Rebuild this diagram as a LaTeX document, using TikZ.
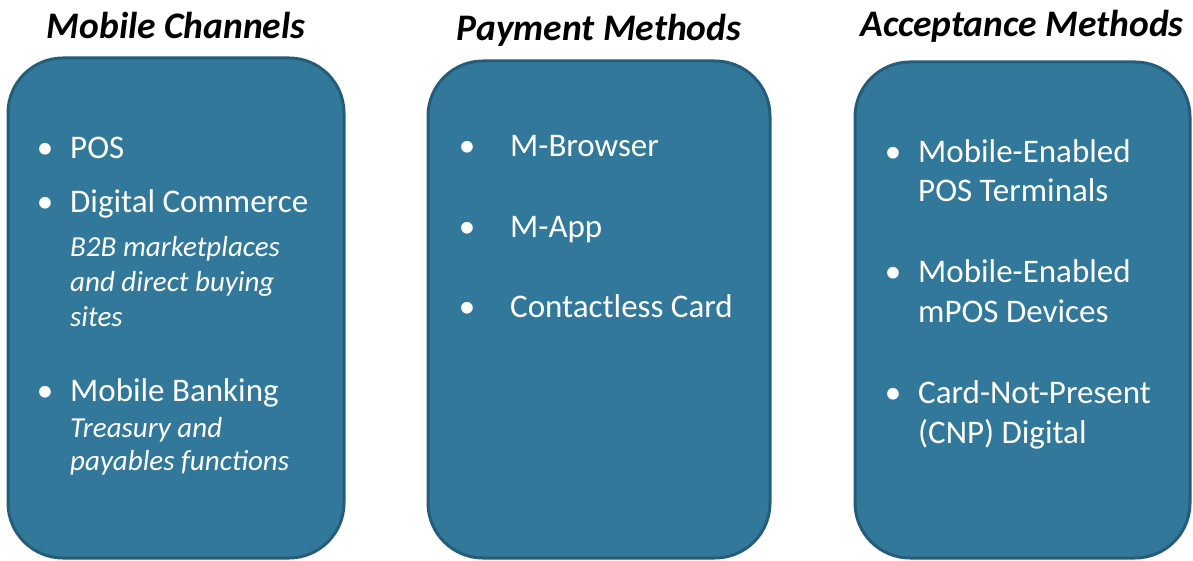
\documentclass[tikz,border=0pt]{standalone}
\usepackage{fontspec}
\setmainfont{Carlito}
\definecolor{boxfill}{RGB}{49,120,154}
\definecolor{boxline}{RGB}{36,93,120}
\begin{document}
\begin{tikzpicture}[x=1pt,y=-1pt,
  panel/.style={draw=boxline,fill=boxfill,line width=3pt,rounded corners=55pt},
  ttl/.style={inner sep=0pt,anchor=base,font=\fontsize{37.5}{42}\selectfont\bfseries\itshape,text=black},
  itm/.style={inner sep=0pt,anchor=base west,font=\fontsize{33}{38}\selectfont,text=white},
  sub/.style={inner sep=0pt,anchor=base west,font=\fontsize{29}{34}\selectfont\itshape,text=white},
  bul/.style={inner sep=0pt,anchor=base,font=\fontsize{33}{38}\selectfont,text=white}]
\useasboundingbox (0,0) rectangle (1193,561);
% panels
\draw[panel] (8,58) rectangle (344,558);
\draw[panel] (428,61) rectangle (770,558);
\draw[panel] (855,62) rectangle (1190,558);
% titles
\node[ttl] (t1) at (176,39) {Mobile Channels};
\node[ttl] (t2) at (599,41) {Payment Methods};
\node[ttl] (t3) at (1022,37) {Acceptance Methods};
% column 1
\node[bul] (b11) at (45,159) {\textbullet};
\node[itm] (i11) at (70,159) {POS};
\node[bul] (b12) at (45,213) {\textbullet};
\node[itm] (i12) at (70,213) {Digital Commerce};
\node[sub] (s121) at (70,257) {B2B marketplaces};
\node[sub] (s122) at (70,291) {and direct buying};
\node[sub] (s123) at (70,326) {sites};
\node[bul] (b13) at (45,401) {\textbullet};
\node[itm] (i13) at (70,401) {Mobile Banking};
\node[sub] (s131) at (70,437) {Treasury and};
\node[sub] (s132) at (70,470) {payables functions};
% column 2
\node[bul] (b21) at (467,157) {\textbullet};
\node[itm] (i21) at (510,157) {M-Browser};
\node[bul] (b22) at (467,238) {\textbullet};
\node[itm] (i22) at (510,238) {M-App};
\node[bul] (b23) at (467,317) {\textbullet};
\node[itm] (i23) at (510,317) {Contactless Card};
% column 3
\node[bul] (b31) at (893,163) {\textbullet};
\node[itm] (i31) at (918,163) {Mobile-Enabled};
\node[itm] (i32) at (918,202) {POS Terminals};
\node[bul] (b33) at (893,283) {\textbullet};
\node[itm] (i33) at (918,283) {Mobile-Enabled};
\node[itm] (i34) at (918,322) {mPOS Devices};
\node[bul] (b35) at (893,403) {\textbullet};
\node[itm] (i35) at (918,403) {Card-Not-Present};
\node[itm] (i36) at (918,443) {(CNP) Digital};
\end{tikzpicture}
\end{document}
